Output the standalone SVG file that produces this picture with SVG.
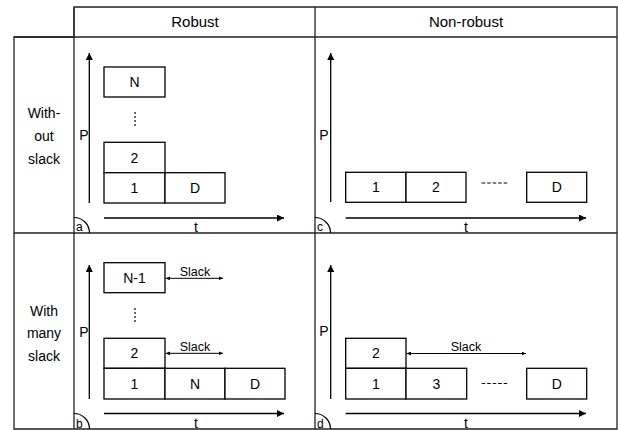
<svg xmlns="http://www.w3.org/2000/svg" width="618" height="430" viewBox="0 0 618 430">
<defs>
<marker id="ah" viewBox="0 0 10 10" refX="10" refY="5" markerWidth="7" markerHeight="7" markerUnits="userSpaceOnUse" orient="auto"><path d="M0,0 L10,5 L0,10 Z" fill="#000"/></marker>
<marker id="sh" viewBox="0 0 10 10" refX="10" refY="5" markerWidth="4.5" markerHeight="4" markerUnits="userSpaceOnUse" orient="auto-start-reverse" preserveAspectRatio="none"><path d="M0,0 L10,5 L0,10 Z" fill="#000"/></marker>
</defs>
<style>
text{font-family:"Liberation Sans",Arial,sans-serif;fill:#000}
.grid{fill:none;stroke:#222;stroke-width:1.3}
.box rect{fill:#fff;stroke:#000;stroke-width:1.3}
.box text{font-size:14px;text-anchor:middle}
.ax{stroke:#000;stroke-width:1.3;fill:none;marker-end:url(#ah)}
.sl{stroke:#000;stroke-width:1;fill:none;marker-start:url(#sh);marker-end:url(#sh)}
.hd{font-size:15px;text-anchor:middle}
.rl{font-size:14px;text-anchor:middle}
.lb{font-size:14px}
.sm{font-size:12.5px;text-anchor:middle}
.cn{font-size:12px}
.arc{fill:none;stroke:#000;stroke-width:1.2}
.vd{stroke:#000;stroke-width:1.2;stroke-dasharray:2,2}
.hdash{stroke:#000;stroke-width:1.2;stroke-dasharray:3.5,2}
</style>
<g id="table">
<path class="grid" d="M74,7 H617 V429 H14 V37 H74 Z"/>
<path class="grid" d="M74,7 V429 M315,7 V429 M14,37 H617 M14,233 H617"/>
<text class="hd" x="195" y="27">Robust</text>
<text class="hd" x="466" y="27">Non-robust</text>
<text class="rl" x="44" y="117.5">With-</text>
<text class="rl" x="44" y="140.5">out</text>
<text class="rl" x="44" y="163.5">slack</text>
<text class="rl" x="44" y="315.5">With</text>
<text class="rl" x="44" y="338">many</text>
<text class="rl" x="44" y="360.5">slack</text>
</g>
<g id="connectors">
<line class="ax" x1="89.3" y1="203" x2="89.3" y2="53"/>
<line class="ax" x1="104" y1="218" x2="284" y2="218"/>
<line class="ax" x1="330.7" y1="202" x2="330.7" y2="53"/>
<line class="ax" x1="345.7" y1="218" x2="586" y2="218"/>
<line class="ax" x1="89.3" y1="399" x2="89.3" y2="265"/>
<line class="ax" x1="104" y1="413.5" x2="284" y2="413.5"/>
<line class="ax" x1="330.7" y1="399" x2="330.7" y2="265"/>
<line class="ax" x1="345.7" y1="413.5" x2="586" y2="413.5"/>
<line class="sl" x1="165.7" y1="278.3" x2="223" y2="278.3"/>
<line class="sl" x1="165.7" y1="353.3" x2="223" y2="353.3"/>
<line class="sl" x1="406.5" y1="353.5" x2="526" y2="353.5"/>
<line class="vd" x1="135" y1="112" x2="135" y2="127"/>
<line class="vd" x1="135" y1="308" x2="135" y2="323"/>
<line class="hdash" x1="481.7" y1="183" x2="509" y2="183"/>
<line class="hdash" x1="481.7" y1="383.5" x2="509" y2="383.5"/>
</g>
<g id="labels">
<text class="lb" x="79.3" y="140">P</text>
<text class="lb" x="319.3" y="140">P</text>
<text class="lb" x="79.3" y="337">P</text>
<text class="lb" x="319.3" y="336">P</text>
<text class="rl" x="196" y="231.5">t</text>
<text class="rl" x="466" y="231.5">t</text>
<text class="rl" x="196" y="428">t</text>
<text class="rl" x="466" y="428">t</text>
<text class="sm" x="195" y="276">Slack</text>
<text class="sm" x="195" y="351">Slack</text>
<text class="sm" x="466" y="351">Slack</text>
</g>
<g id="corner-a"><path class="arc" d="M74,217.5 A15.5,15.5 0 0 1 89.5,233"/><text class="cn" x="76" y="231">a</text></g>
<g id="corner-b"><path class="arc" d="M74,413.5 A15.5,15.5 0 0 1 89.5,429"/><text class="cn" x="76" y="428">b</text></g>
<g id="corner-c"><path class="arc" d="M315,217.5 A15.5,15.5 0 0 1 330.5,233"/><text class="cn" x="317" y="231">c</text></g>
<g id="corner-d"><path class="arc" d="M315,413.5 A15.5,15.5 0 0 1 330.5,429"/><text class="cn" x="317" y="428">d</text></g>
<g id="a-N" class="box"><rect x="104" y="67" width="61" height="30"/><text x="134.5" y="87">N</text></g>
<g id="a-2" class="box"><rect x="104" y="142.3" width="61" height="30.4"/><text x="134.5" y="162.5">2</text></g>
<g id="a-1" class="box"><rect x="104" y="172.7" width="61" height="30.3"/><text x="134.5" y="193">1</text></g>
<g id="a-D" class="box"><rect x="165" y="172.7" width="60" height="30.3"/><text x="195" y="193">D</text></g>
<g id="c-1" class="box"><rect x="345.7" y="172.3" width="60.3" height="30"/><text x="375.8" y="192.3">1</text></g>
<g id="c-2" class="box"><rect x="406" y="172.3" width="60" height="30"/><text x="436" y="192.3">2</text></g>
<g id="c-D" class="box"><rect x="526.7" y="172.3" width="60" height="30"/><text x="556.7" y="192.3">D</text></g>
<g id="b-N-1" class="box"><rect x="104" y="262.7" width="61" height="30"/><text x="134.5" y="282.7">N-1</text></g>
<g id="b-2" class="box"><rect x="104" y="338.3" width="61" height="30"/><text x="134.5" y="358.3">2</text></g>
<g id="b-1" class="box"><rect x="104" y="368.3" width="61" height="30.7"/><text x="134.5" y="388.7">1</text></g>
<g id="b-N" class="box"><rect x="165" y="368.3" width="60" height="30.7"/><text x="195" y="388.7">N</text></g>
<g id="b-D" class="box"><rect x="225" y="368.3" width="60" height="30.7"/><text x="255" y="388.7">D</text></g>
<g id="d-2" class="box"><rect x="345.7" y="338.3" width="60.3" height="30"/><text x="375.8" y="358.3">2</text></g>
<g id="d-1" class="box"><rect x="345.7" y="368.3" width="60.3" height="30.7"/><text x="375.8" y="388.7">1</text></g>
<g id="d-3" class="box"><rect x="406" y="368.3" width="60.7" height="30.7"/><text x="436.3" y="388.7">3</text></g>
<g id="d-D" class="box"><rect x="526.7" y="368.3" width="60" height="30.7"/><text x="556.7" y="388.7">D</text></g>
</svg>
